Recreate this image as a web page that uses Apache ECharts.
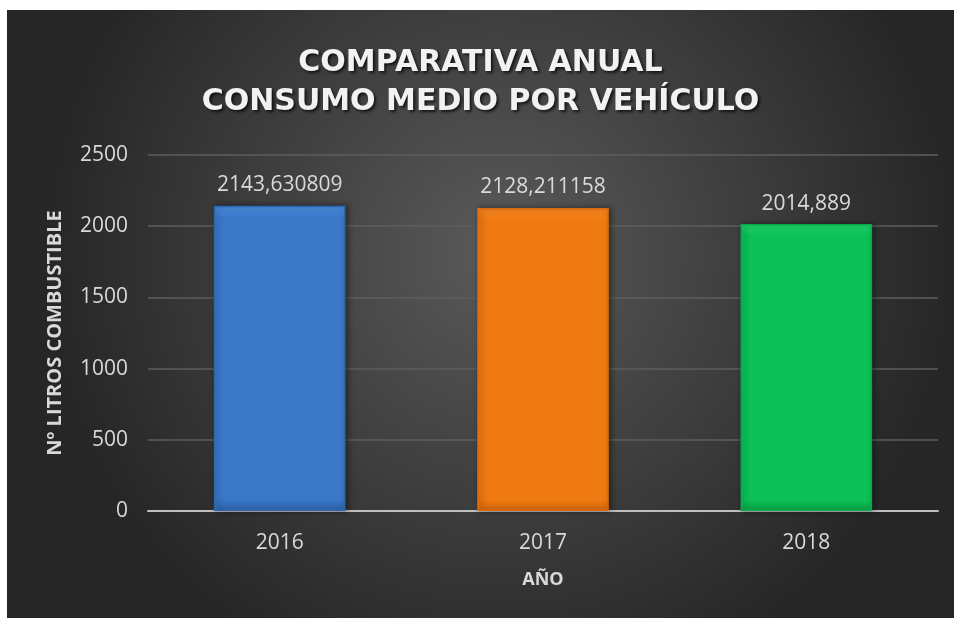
<!DOCTYPE html>
<html>
<head>
<meta charset="utf-8">
<script src="https://cdn.jsdelivr.net/npm/echarts@6/dist/echarts.min.js"></script>
<style>
  html, body { margin: 0; padding: 0; background: #ffffff; }
  #chart { position: absolute; left: 7px; top: 10px; width: 947px; height: 608px; }
</style>
</head>
<body>
<div id="chart"></div>
<script>
var years = ['2016', '2017', '2018'];
var consumo = [2143.630809, 2128.211158, 2014.889];
var etiquetas = ['2143,630809', '2128,211158', '2014,889'];

var barColors = [
  ['#4b8fe0', '#3a78c8', '#2f66ae'],
  ['#fb8a22', '#f07a12', '#d9690b'],
  ['#1fd66a', '#0cc157', '#09a84b']
];

var chartDom = document.getElementById('chart');
var myChart = echarts.init(chartDom);
var option;

option = {
  backgroundColor: new echarts.graphic.RadialGradient(0.52, 0.4, 0.75, [
    { offset: 0, color: '#5a5a5a' },
    { offset: 1, color: '#262626' }
  ]),
  title: {
    text: 'COMPARATIVA ANUAL\nCONSUMO MEDIO POR VEHÍCULO',
    left: 'center',
    top: 29,
    textStyle: {
      color: '#f2f2f2',
      fontFamily: 'DejaVu Sans',
      fontWeight: 'bold',
      fontSize: 30,
      lineHeight: 39,
      textShadowColor: 'rgba(0,0,0,0.7)',
      textShadowBlur: 3,
      textShadowOffsetX: 2,
      textShadowOffsetY: 2
    }
  },
  grid: {
    left: 141,
    right: 16,
    top: 145,
    bottom: 107
  },
  xAxis: {
    type: 'category',
    data: years,
    name: 'AÑO',
    nameLocation: 'middle',
    nameGap: 60,
    nameTextStyle: {
      color: '#d9d9d9',
      fontFamily: 'Open Sans',
      fontWeight: 'bold',
      fontSize: 18
    },
    axisLine: { lineStyle: { color: '#bfbfbf', width: 2 } },
    axisTick: { show: false },
    axisLabel: {
      color: '#d9d9d9',
      fontFamily: 'Open Sans',
      fontSize: 21,
      margin: 22
    }
  },
  yAxis: {
    type: 'value',
    min: 0,
    max: 2500,
    interval: 500,
    name: 'Nº LITROS COMBUSTIBLE',
    nameLocation: 'middle',
    nameGap: 83,
    nameTextStyle: {
      color: '#d9d9d9',
      fontFamily: 'Open Sans',
      fontWeight: 'bold',
      fontSize: 20
    },
    axisLine: { show: false },
    axisTick: { show: false },
    splitLine: { lineStyle: { color: '#5e5e5e', width: 1.5 } },
    axisLabel: {
      color: '#d9d9d9',
      fontFamily: 'Open Sans',
      fontSize: 21,
      margin: 20,
      formatter: function (v) { return String(v); }
    }
  },
  series: [
    {
      name: 'Consumo',
      type: 'bar',
      barWidth: '50%',
      data: consumo.map(function (v, i) {
        return {
          value: v,
          itemStyle: {
            color: new echarts.graphic.LinearGradient(0, 0, 0, 1, [
              { offset: 0, color: barColors[i][0] },
              { offset: 0.04, color: barColors[i][1] },
              { offset: 0.96, color: barColors[i][1] },
              { offset: 1, color: barColors[i][2] }
            ]),
            borderColor: barColors[i][2],
            borderWidth: 1.5,
            shadowColor: 'rgba(0,0,0,0.45)',
            shadowBlur: 6,
            shadowOffsetX: 2,
            shadowOffsetY: 0
          }
        };
      }),
      label: {
        show: true,
        position: 'top',
        distance: 10,
        color: '#d9d9d9',
        fontFamily: 'Open Sans',
        fontSize: 21,
        formatter: function (p) { return etiquetas[p.dataIndex]; }
      }
    }
  ]
};

myChart.setOption(option);
</script>
</body>
</html>
